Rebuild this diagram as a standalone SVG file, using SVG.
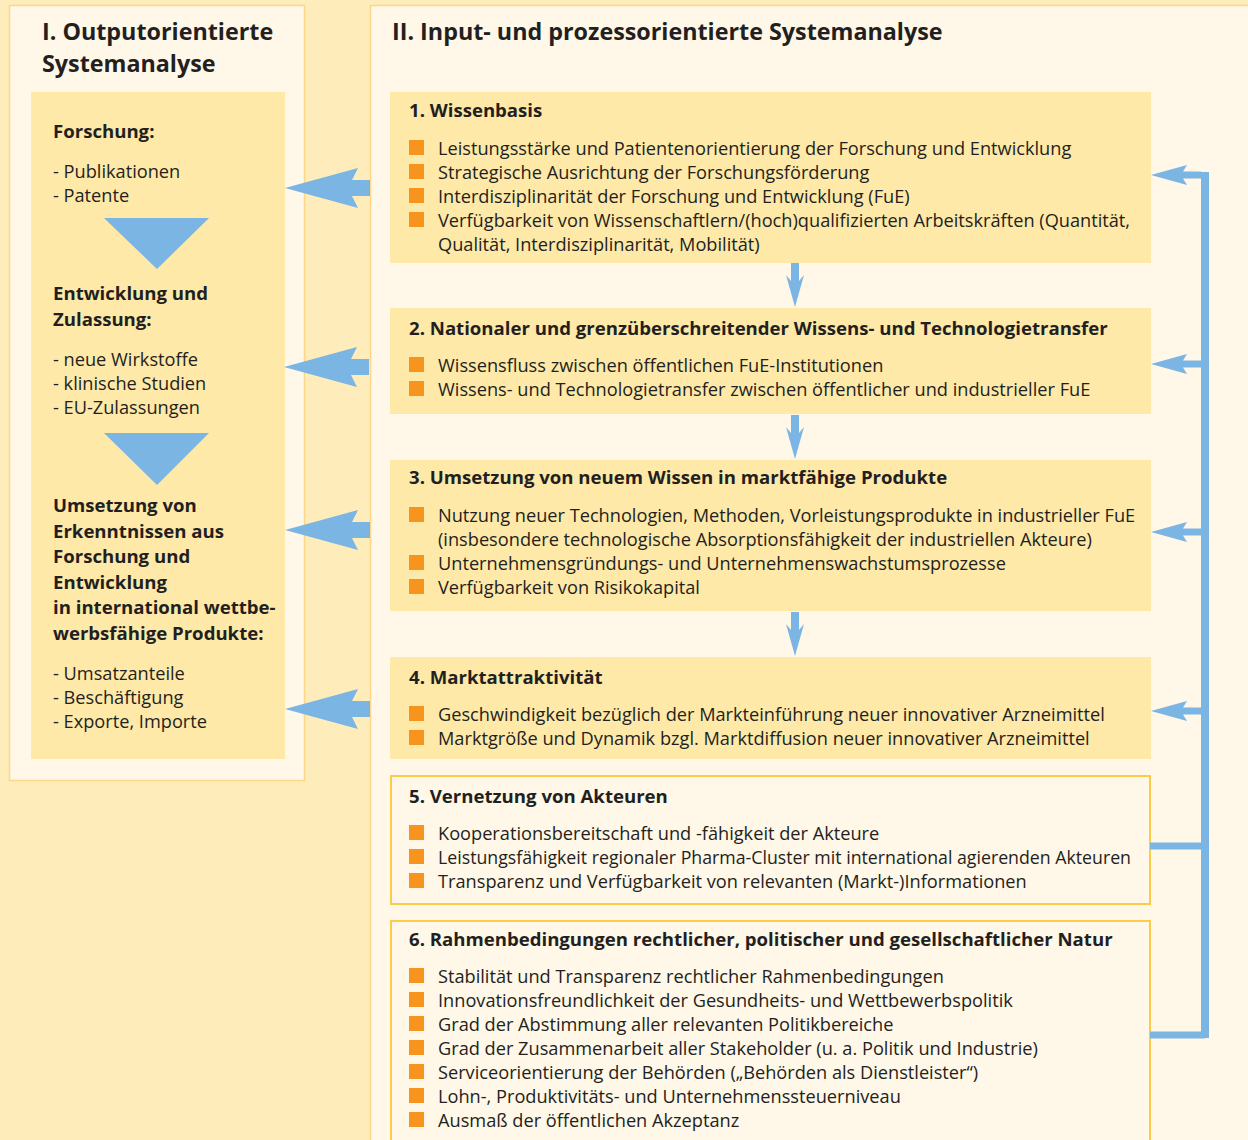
<svg xmlns="http://www.w3.org/2000/svg" width="1248" height="1140" viewBox="0 0 1248 1140">
<style>
.t{font-family:"Open Sans","Noto Sans",sans-serif;fill:#231F20}
.h1{font-size:23.3px;font-weight:700}
.h2{font-size:18.6px;font-weight:700}
.b{font-size:18.2px}
.bl{fill:#7AB5E3}
.sq{fill:#F7941D}
.box{fill:#FEE9A8}
.pan{fill:#FFF7E7;stroke:#FDD68A;stroke-width:1.5}
.obox{fill:#FFF7E7;stroke:#FDCB4A;stroke-width:2}
</style>
<defs>
<path id="la" d="M0,0 L73,-20 L67,-8 L85,-8 L85,8 L67,8 L73,20 Z" class="bl"/>
<path id="da" d="M0,0 L-9,-32 L-4,-26 L-4,-44 L4,-44 L4,-26 L9,-32 Z" class="bl"/>
<path id="ra" d="M0,0 L36,-10 L32,-3.5 L50,-3.5 L50,3.5 L32,3.5 L36,10 Z" class="bl"/>
<rect id="s" width="15" height="15" class="sq"/>
</defs>
<rect width="1248" height="1140" fill="#FEEDBB"/>

<g id="panel1">
<rect class="pan" x="9.5" y="5.5" width="295" height="775"/>
<text class="t h1" x="42" y="40">I. Outputorientierte</text>
<text class="t h1" x="42" y="72">Systemanalyse</text>
<rect class="box" x="31" y="92" width="254" height="667"/>
<text class="t h2" x="53" y="138">Forschung:</text>
<text class="t b" x="53" y="178">- Publikationen</text>
<text class="t b" x="53" y="202">- Patente</text>
<path class="bl" d="M104,218 L209,218 L157,269 Z"/>
<text class="t h2" x="53" y="300">Entwicklung und</text>
<text class="t h2" x="53" y="326">Zulassung:</text>
<text class="t b" x="53" y="366">- neue Wirkstoffe</text>
<text class="t b" x="53" y="390">- klinische Studien</text>
<text class="t b" x="53" y="414">- EU-Zulassungen</text>
<path class="bl" d="M104,433 L209,433 L157,485 Z"/>
<text class="t h2" x="53" y="512">Umsetzung von</text>
<text class="t h2" x="53" y="538">Erkenntnissen aus</text>
<text class="t h2" x="53" y="563">Forschung und</text>
<text class="t h2" x="53" y="589">Entwicklung</text>
<text class="t h2" x="53" y="614">in international wettbe-</text>
<text class="t h2" x="53" y="640">werbsfähige Produkte:</text>
<text class="t b" x="53" y="680">- Umsatzanteile</text>
<text class="t b" x="53" y="704">- Beschäftigung</text>
<text class="t b" x="53" y="728">- Exporte, Importe</text>
</g>

<g id="panel2">
<rect class="pan" x="370.5" y="5.5" width="890" height="1150"/>
<text class="t h1" x="392" y="40">II. Input- und prozessorientierte Systemanalyse</text>
</g>

<g id="box1">
<rect class="box" x="390" y="92" width="761" height="171"/>
<text class="t h2" x="409" y="117">1. Wissenbasis</text>
<use href="#s" x="409" y="140"/><text class="t b" x="438" y="155">Leistungsstärke und Patientenorientierung der Forschung und Entwicklung</text>
<use href="#s" x="409" y="164"/><text class="t b" x="438" y="179">Strategische Ausrichtung der Forschungsförderung</text>
<use href="#s" x="409" y="188"/><text class="t b" x="438" y="203">Interdisziplinarität der Forschung und Entwicklung (FuE)</text>
<use href="#s" x="409" y="212"/><text class="t b" x="438" y="227">Verfügbarkeit von Wissenschaftlern/(hoch)qualifizierten Arbeitskräften (Quantität,</text>
<text class="t b" x="438" y="251">Qualität, Interdisziplinarität, Mobilität)</text>
</g>

<g id="box2">
<rect class="box" x="390" y="308" width="761" height="106"/>
<text class="t h2" x="409" y="335">2. Nationaler und grenzüberschreitender Wissens- und Technologietransfer</text>
<use href="#s" x="409" y="357"/><text class="t b" x="438" y="372">Wissensfluss zwischen öffentlichen FuE-Institutionen</text>
<use href="#s" x="409" y="381"/><text class="t b" x="438" y="396">Wissens- und Technologietransfer zwischen öffentlicher und industrieller FuE</text>
</g>

<g id="box3">
<rect class="box" x="390" y="460" width="761" height="151"/>
<text class="t h2" x="409" y="484">3. Umsetzung von neuem Wissen in marktfähige Produkte</text>
<use href="#s" x="409" y="507"/><text class="t b" x="438" y="522">Nutzung neuer Technologien, Methoden, Vorleistungsprodukte in industrieller FuE</text>
<text class="t b" x="438" y="546">(insbesondere technologische Absorptionsfähigkeit der industriellen Akteure)</text>
<use href="#s" x="409" y="555"/><text class="t b" x="438" y="570">Unternehmensgründungs- und Unternehmenswachstumsprozesse</text>
<use href="#s" x="409" y="579"/><text class="t b" x="438" y="594">Verfügbarkeit von Risikokapital</text>
</g>

<g id="box4">
<rect class="box" x="390" y="657" width="761" height="102"/>
<text class="t h2" x="409" y="684">4. Marktattraktivität</text>
<use href="#s" x="409" y="706"/><text class="t b" x="438" y="721">Geschwindigkeit bezüglich der Markteinführung neuer innovativer Arzneimittel</text>
<use href="#s" x="409" y="730"/><text class="t b" x="438" y="745">Marktgröße und Dynamik bzgl. Marktdiffusion neuer innovativer Arzneimittel</text>
</g>

<g id="box5">
<rect class="obox" x="391" y="776" width="759" height="128"/>
<text class="t h2" x="409" y="803">5. Vernetzung von Akteuren</text>
<use href="#s" x="409" y="825"/><text class="t b" x="438" y="840">Kooperationsbereitschaft und -fähigkeit der Akteure</text>
<use href="#s" x="409" y="849"/><text class="t b" x="438" y="864" textLength="693" lengthAdjust="spacingAndGlyphs">Leistungsfähigkeit regionaler Pharma-Cluster mit international agierenden Akteuren</text>
<use href="#s" x="409" y="873"/><text class="t b" x="438" y="888">Transparenz und Verfügbarkeit von relevanten (Markt-)Informationen</text>
</g>

<g id="box6">
<rect class="obox" x="391" y="921" width="759" height="240"/>
<text class="t h2" x="409" y="946">6. Rahmenbedingungen rechtlicher, politischer und gesellschaftlicher Natur</text>
<use href="#s" x="409" y="968"/><text class="t b" x="438" y="983">Stabilität und Transparenz rechtlicher Rahmenbedingungen</text>
<use href="#s" x="409" y="992"/><text class="t b" x="438" y="1007">Innovationsfreundlichkeit der Gesundheits- und Wettbewerbspolitik</text>
<use href="#s" x="409" y="1016"/><text class="t b" x="438" y="1031">Grad der Abstimmung aller relevanten Politikbereiche</text>
<use href="#s" x="409" y="1040"/><text class="t b" x="438" y="1055">Grad der Zusammenarbeit aller Stakeholder (u. a. Politik und Industrie)</text>
<use href="#s" x="409" y="1064"/><text class="t b" x="438" y="1079">Serviceorientierung der Behörden („Behörden als Dienstleister“)</text>
<use href="#s" x="409" y="1088"/><text class="t b" x="438" y="1103">Lohn-, Produktivitäts- und Unternehmenssteuerniveau</text>
<use href="#s" x="409" y="1112"/><text class="t b" x="438" y="1127">Ausmaß der öffentlichen Akzeptanz</text>
</g>

<g id="connectors">
<use href="#la" x="285" y="188"/>
<use href="#la" x="284" y="367"/>
<use href="#la" x="285" y="530"/>
<use href="#la" x="285" y="709"/>
<use href="#da" x="795" y="307"/>
<use href="#da" x="795" y="459"/>
<use href="#da" x="795" y="656"/>
<rect class="bl" x="1201" y="172" width="8" height="866"/>
<use href="#ra" x="1151" y="175"/>
<use href="#ra" x="1151" y="364"/>
<use href="#ra" x="1151" y="532"/>
<use href="#ra" x="1151" y="711"/>
<rect class="bl" x="1150" y="842.5" width="55" height="7"/>
<rect class="bl" x="1150" y="1031.5" width="55" height="7"/>
</g>
</svg>
